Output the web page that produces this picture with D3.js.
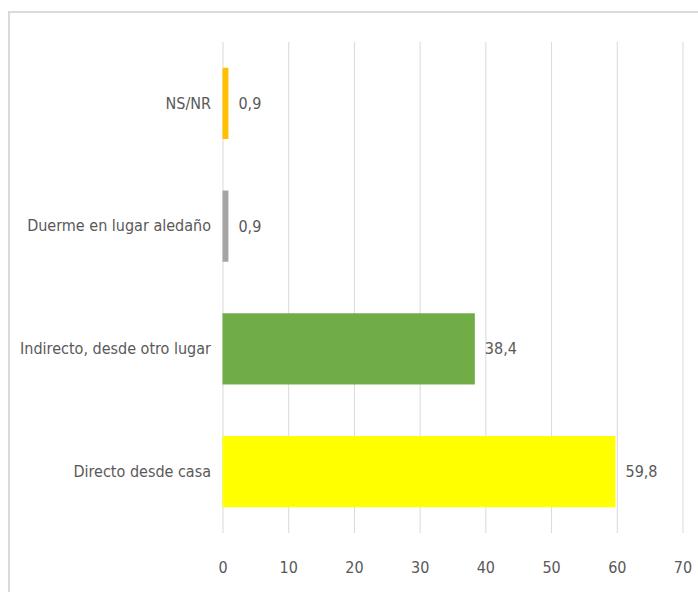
<!DOCTYPE html>
<html>
<head>
<meta charset="utf-8">
<script src="https://cdn.jsdelivr.net/npm/d3@7"></script>
<style>
  body { margin: 0; background: #fff; }
  text { font-family: "Liberation Sans Narrow", "DejaVu Sans Condensed", sans-serif; fill: #595959; }
</style>
</head>
<body>
<div id="chart"></div>
<script>
// categories top to bottom
var categories = ["NS/NR", "Duerme en lugar aledaño", "Indirecto, desde otro lugar", "Directo desde casa"];
var values = [0.9, 0.9, 38.4, 59.8];
var labels = ["0,9", "0,9", "38,4", "59,8"];
var barColors = ["#ffc000", "#a5a5a5", "#70ad47", "#ffff00"];
var xTicks = [0, 10, 20, 30, 40, 50, 60, 70];

var width = 698, height = 592;
var plot = {left: 222.5, right: 682.5, top: 42, bottom: 533};
var fontFam = "\"Liberation Sans Narrow\", \"DejaVu Sans Condensed\", sans-serif";

var svg = d3.select("#chart").append("svg")
    .attr("width", width)
    .attr("height", height);

// outer frame (runs off the right and bottom edge)
svg.append("rect")
    .attr("x", 9).attr("y", 12)
    .attr("width", 720).attr("height", 620)
    .attr("fill", "none")
    .attr("stroke", "#d9d9d9")
    .attr("stroke-width", 2);

var xScale = d3.scaleLinear().domain([0, 70]).range([plot.left, plot.right]);
var yScale = d3.scaleBand().domain(categories).range([plot.top, plot.bottom])
    .paddingInner(0.42).paddingOuter(0.21);

// grid lines
var xGrid = d3.axisBottom(xScale).tickValues(xTicks).tickSize(-(plot.bottom - plot.top)).tickFormat("");
svg.append("g").attr("class", "grid")
    .attr("transform", "translate(0," + plot.bottom + ")")
    .call(xGrid)
    .call(function(g) { g.select(".domain").remove(); })
    .selectAll("line").attr("stroke", "#d9d9d9");

// x tick labels
var xAxis = d3.axisBottom(xScale).tickValues(xTicks).tickSize(0).tickPadding(0);
svg.append("g")
    .attr("transform", "translate(0," + 567 + ")")
    .call(xAxis)
    .call(function(g) { g.select(".domain").remove(); })
    .selectAll("text")
    .attr("dy", "0.35em")
    .attr("fill", "#595959")
    .style("font-size", "16px")
    .style("font-family", fontFam);

// y category labels
var yAxis = d3.axisLeft(yScale).tickSize(0).tickPadding(0);
svg.append("g")
    .attr("transform", "translate(211,0)")
    .call(yAxis)
    .call(function(g) { g.select(".domain").remove(); })
    .selectAll("text")
    .attr("fill", "#595959")
    .style("font-size", "16px")
    .style("font-family", fontFam);

// bars
svg.selectAll(".bar")
    .data(values)
    .enter().append("rect")
    .attr("class", "bar")
    .attr("x", xScale(0))
    .attr("y", function(d, i) { return yScale(categories[i]); })
    .attr("width", function(d) { return xScale(d) - xScale(0); })
    .attr("height", yScale.bandwidth())
    .attr("fill", function(d, i) { return barColors[i]; });

// value labels
svg.selectAll(".val")
    .data(values)
    .enter().append("text")
    .attr("class", "val")
    .attr("x", function(d) { return xScale(d) + 10; })
    .attr("y", function(d, i) { return yScale(categories[i]) + yScale.bandwidth() / 2; })
    .attr("dy", "0.35em")
    .style("font-size", "16px")
    .text(function(d, i) { return labels[i]; });
</script>
</body>
</html>
